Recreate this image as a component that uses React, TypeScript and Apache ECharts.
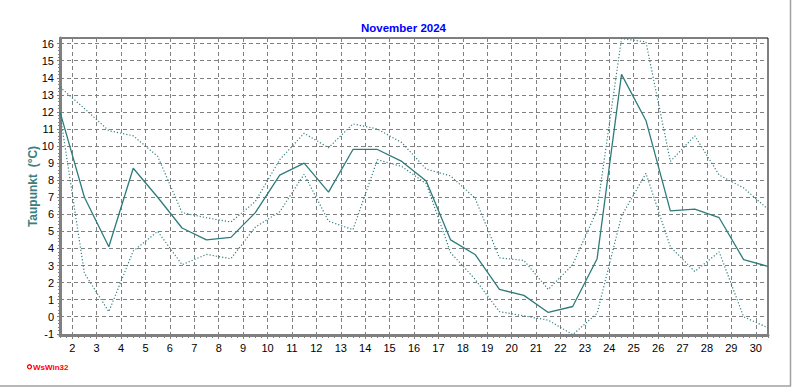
import React, { useEffect, useRef } from "react";
import * as echarts from "echarts";

const days = [1, 2, 3, 4, 5, 6, 7, 8, 9, 10, 11, 12, 13, 14, 15, 16, 17, 18, 19, 20, 21, 22, 23, 24, 25, 26, 27, 28, 29, 30];
const meanDew = [12.0, 7.0, 4.1, 8.7, 7.0, 5.2, 4.5, 4.65, 6.1, 8.3, 9.0, 7.3, 9.8, 9.8, 9.1, 7.95, 4.5, 3.65, 1.6, 1.25, 0.25, 0.6, 3.4, 14.2, 11.5, 6.2, 6.3, 5.8, 3.35, 2.95];
const maxDew = [13.45, 12.2, 10.9, 10.6, 9.4, 6.1, 5.8, 5.55, 6.75, 9.2, 10.75, 9.9, 11.3, 11.0, 10.2, 8.65, 8.25, 6.95, 3.45, 3.3, 1.6, 3.05, 6.25, 16.3, 16.1, 9.1, 10.6, 8.3, 7.55, 6.3];
const minDew = [11.9, 2.55, 0.3, 3.85, 5.0, 3.05, 3.65, 3.4, 5.25, 6.15, 8.35, 5.6, 5.1, 9.2, 8.8, 7.8, 3.75, 2.2, 0.3, 0.05, -0.2, -1.05, 0.2, 5.9, 8.4, 4.1, 2.65, 3.8, 0.0, -0.65];
const xTickLabels = [2, 3, 4, 5, 6, 7, 8, 9, 10, 11, 12, 13, 14, 15, 16, 17, 18, 19, 20, 21, 22, 23, 24, 25, 26, 27, 28, 29, 30];
const yTickLabels = [-1, 0, 1, 2, 3, 4, 5, 6, 7, 8, 9, 10, 11, 12, 13, 14, 15, 16];

const X_MIN = 1.5;
const X_MAX = 30.5;
const Y_MIN = -1.07;
const Y_MAX = 16.33;

const xMinorTicks: number[] = [];
for (let i = 0; i <= (X_MAX - X_MIN) * 4; i++) xMinorTicks.push(+(X_MIN + i * 0.25).toFixed(2));
const yMinorTicks: number[] = [];
for (let i = 0; i <= 85; i++) yMinorTicks.push(+(-1 + i * 0.2).toFixed(2));

const FONT = "Liberation Sans, Arial, sans-serif";
const GRID_COLOR = "#808080";
const LINE_COLOR = "#2e7b7b";
const DOT_COLOR = "#357f7f";

export default function App() {
  const ref = useRef<HTMLDivElement>(null);
  useEffect(() => {
    document.body.style.margin = "0";
    const chart = echarts.init(ref.current!, null, { renderer: "svg" });
    const pts = (arr: number[]) => days.map((d, i) => [d + 0.5, arr[i]]);
    chart.setOption({
      animation: false,
      backgroundColor: "#ffffff",
      title: {
        text: "November 2024",
        left: 356,
        top: 17,
        textStyle: { color: "#0000ff", fontSize: 11.5, fontWeight: "bold", fontFamily: FONT },
      },
      grid: {
        left: 60,
        top: 38,
        width: 708,
        height: 297,
        show: true,
        borderColor: "#000000",
        borderWidth: 1,
        containLabel: false,
      },
      xAxis: [
        {
          type: "value",
          min: X_MIN,
          max: X_MAX,
          position: "bottom",
          axisLine: { show: true, onZero: false, lineStyle: { color: GRID_COLOR, width: 3 } },
          axisTick: { show: true, customValues: xTickLabels, length: 4, lineStyle: { color: GRID_COLOR } },
          axisLabel: { show: true, customValues: xTickLabels, color: "#000", fontSize: 11, fontFamily: FONT, margin: 7 },
          splitLine: { show: true, lineStyle: { color: GRID_COLOR, type: [4, 3], width: 1 } },
        },
        {
          type: "value",
          min: X_MIN,
          max: X_MAX,
          position: "bottom",
          axisLine: { show: false, onZero: false },
          axisTick: { show: true, customValues: xMinorTicks, length: 3, lineStyle: { color: GRID_COLOR } },
          axisLabel: { show: false },
          splitLine: { show: false },
        },
      ],
      yAxis: [
        {
          type: "value",
          min: Y_MIN,
          max: Y_MAX,
          position: "left",
          name: "Taupunkt  (°C)",
          nameLocation: "middle",
          nameRotate: 90,
          nameGap: 21,
          nameMoveOverlap: false,
          nameTextStyle: { color: "#3a8080", fontSize: 12, fontWeight: "bold", fontFamily: FONT },
          axisLine: { show: true, onZero: false, lineStyle: { color: GRID_COLOR, width: 3 } },
          axisTick: { show: true, customValues: yTickLabels, length: 3, lineStyle: { color: GRID_COLOR } },
          axisLabel: { show: true, customValues: yTickLabels, color: "#000", fontSize: 11, fontFamily: FONT, margin: 6 },
          splitLine: { show: true, lineStyle: { color: GRID_COLOR, type: [4, 3], width: 1 } },
        },
        {
          type: "value",
          min: Y_MIN,
          max: Y_MAX,
          position: "left",
          axisLine: { show: false, onZero: false },
          axisTick: { show: true, customValues: yMinorTicks, length: 2, lineStyle: { color: GRID_COLOR } },
          axisLabel: { show: false },
          splitLine: { show: false },
        },
      ],
      graphic: [
        { type: "line", shape: { x1: 790.5, y1: 0, x2: 790.5, y2: 386 }, style: { stroke: "#a0a0a0", lineWidth: 1.5 } },
        { type: "line", shape: { x1: 0, y1: 386, x2: 791, y2: 386 }, style: { stroke: "#a0a0a0", lineWidth: 1.5 } },
        { type: "circle", shape: { cx: 29.5, cy: 366.8, r: 2 }, style: { stroke: "#ff0000", fill: "#ffffff", lineWidth: 1.3 } },
        {
          type: "text",
          x: 33,
          y: 367,
          style: { text: "WsWin32", fill: "#ff0000", font: "bold 8px Liberation Sans, Arial, sans-serif", verticalAlign: "middle" },
        },
      ],
      series: [
        {
          name: "Max",
          type: "line",
          data: pts(maxDew),
          showSymbol: false,
          symbol: "none",
          lineStyle: { color: DOT_COLOR, width: 1.2, type: [1.2, 2] },
          z: 3,
        },
        {
          name: "Min",
          type: "line",
          data: pts(minDew),
          showSymbol: false,
          symbol: "none",
          lineStyle: { color: DOT_COLOR, width: 1.2, type: [1.2, 2] },
          z: 3,
        },
        {
          name: "Mittel",
          type: "line",
          data: pts(meanDew),
          showSymbol: false,
          symbol: "none",
          lineStyle: { color: LINE_COLOR, width: 1.3 },
          z: 4,
        },
      ],
    });
    return () => chart.dispose();
  }, []);
  return <div ref={ref} style={{ width: 792, height: 387 }} />;
}
